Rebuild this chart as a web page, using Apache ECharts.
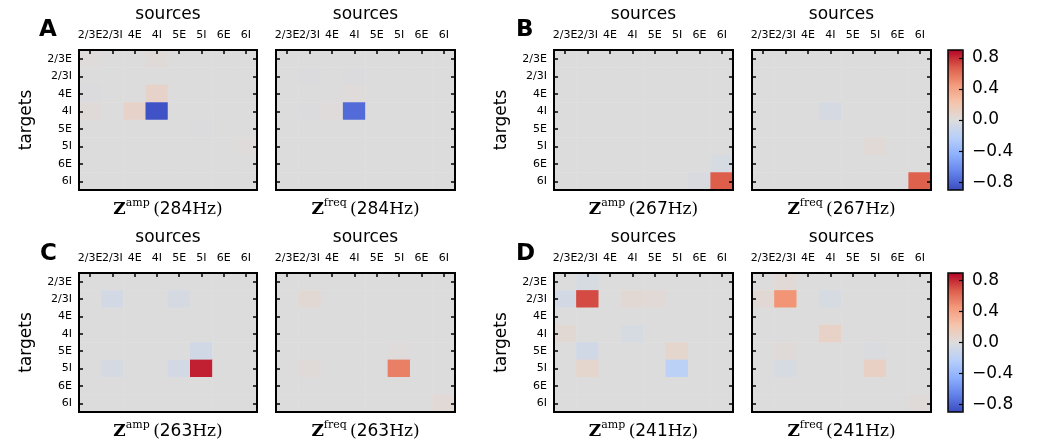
<!DOCTYPE html>
<html>
<head>
<meta charset="utf-8">
<script src="https://cdn.jsdelivr.net/npm/echarts@6/dist/echarts.min.js"></script>
<style>
html, body { margin: 0; padding: 0; background: #fff; }
#chart { width: 1038px; height: 446px; }
</style>
</head>
<body>
<div id="chart"></div>
<script>
// populations (sources on x, targets on y)
const pops = ['2/3E', '2/3I', '4E', '4I', '5E', '5I', '6E', '6I'];
const cbarTicks = [-0.8, -0.4, 0, 0.4, 0.8];
const panelLetters = ['A', 'B', 'C', 'D'];
const freqs = [284, 267, 263, 241];

// rows = targets, cols = sources
const ampA = [
    [0.01, 0, 0, 0.02, 0, 0, 0, 0],
    [0, 0, 0, 0, 0, 0, 0, 0],
    [-0.01, 0, 0, 0.09, 0, 0, 0, 0],
    [0.02, 0, 0.09, -0.87, 0, 0, 0, 0],
    [0, 0, 0, 0, 0, -0.01, 0, 0],
    [0, 0, 0, 0, 0, 0, 0, 0.01],
    [0, 0, 0, 0, 0, 0, 0, 0],
    [0, 0, 0, 0, 0, 0, 0, 0]
];
const freqA = [
    [0, 0, 0, 0, 0, 0, 0, 0],
    [0, -0.01, 0, -0.01, 0, 0, 0, 0],
    [0, 0, 0, 0.01, 0, 0, 0, 0],
    [0, -0.01, 0.01, -0.77, 0, 0, 0, 0],
    [0, 0, 0, 0, 0, 0, 0, 0],
    [0, 0, 0, 0, 0, 0, 0, 0],
    [0, 0, 0, 0, 0, 0, 0, 0],
    [0, 0, 0, 0, 0, 0, 0, 0]
];
const ampB = [
    [0, 0, 0, 0, 0, 0, 0, 0],
    [0, 0, 0, 0, 0, 0, 0, 0],
    [0, 0, 0, 0, 0, 0, 0, 0],
    [0, 0, 0, 0, 0, 0, 0, 0],
    [0, 0, 0, 0, 0, 0, 0, 0],
    [0, 0, 0, 0, 0, 0, 0, 0],
    [0, 0, 0, 0, 0, 0, 0, -0.04],
    [0, 0, 0, 0, 0, 0, -0.03, 0.67]
];
const freqB = [
    [0, 0, 0, 0, 0, 0, 0, 0],
    [0, 0, 0, 0, 0, 0, 0, 0],
    [0, 0, 0, 0, 0, 0, 0, 0],
    [0, 0, 0, -0.05, 0, 0, 0, 0],
    [0, 0, 0, 0, 0, 0, 0, 0],
    [0, 0, 0, 0, 0, 0.03, 0, 0],
    [0, 0, 0, 0, 0, 0, 0, 0],
    [0, 0, 0, 0, 0, 0, 0, 0.66]
];
const ampC = [
    [0, 0, 0, 0, 0, 0, 0, 0],
    [0, -0.06, 0, 0, -0.05, 0, 0, 0],
    [0, 0, 0, 0, 0, 0, 0, 0],
    [0, 0, 0, 0, 0, 0, 0, 0],
    [0, 0, 0, 0, 0, -0.07, 0, 0],
    [0, -0.05, 0, 0, -0.06, 0.83, 0, 0],
    [0, 0, 0, 0, 0, 0, 0, 0],
    [0, 0, 0, 0, 0, 0, 0, 0]
];
const freqC = [
    [0, 0, 0, 0, 0, 0, 0, 0],
    [0, 0.04, 0, 0, 0, 0, 0, 0],
    [0, 0, 0, 0, 0, 0, 0, 0],
    [0, 0, 0, 0, 0, 0, 0, 0],
    [0, 0, 0, 0, 0, 0.01, 0, 0],
    [0, 0.02, 0, 0, 0, 0.55, 0, 0],
    [0, 0, 0, 0, 0, 0, 0, 0],
    [0, 0, 0, 0, 0, 0, 0, 0.03]
];
const ampD = [
    [0, -0.04, 0, 0, 0, 0, 0, 0],
    [-0.06, 0.72, 0, 0.04, 0.03, 0, 0, 0],
    [0, 0, 0, 0, 0, 0, 0, 0],
    [0.04, 0, 0, -0.04, 0, 0, 0, 0],
    [0, -0.07, 0, 0, 0, 0.07, 0, 0],
    [0, 0.07, 0, 0, 0, -0.2, 0, 0],
    [0, 0, 0, 0, 0, 0, 0, 0],
    [0, 0, 0, 0, 0, 0, 0, 0]
];
const freqD = [
    [0, 0.03, 0, 0, 0, 0, 0, 0],
    [0.04, 0.47, 0, -0.04, 0, 0, 0, 0],
    [0, 0, 0, 0, 0, 0, 0, 0],
    [0, 0, 0, 0.1, 0, 0, 0, 0],
    [0, 0.02, 0, 0, 0, -0.02, 0, 0],
    [0, -0.04, 0, 0, 0, 0.11, 0, 0],
    [0, 0, 0, 0, 0, 0, 0, 0],
    [0, 0, 0, 0, 0, 0, 0, 0.02]
];

const panels = [
    { m: ampA, kind: 'amp', f: freqs[0] }, { m: freqA, kind: 'freq', f: freqs[0] },
    { m: ampB, kind: 'amp', f: freqs[1] }, { m: freqB, kind: 'freq', f: freqs[1] },
    { m: ampC, kind: 'amp', f: freqs[2] }, { m: freqC, kind: 'freq', f: freqs[2] },
    { m: ampD, kind: 'amp', f: freqs[3] }, { m: freqD, kind: 'freq', f: freqs[3] }
];

const coolwarm = ['#3b4cc0', '#6282ea', '#8db0fe', '#b8d0f9', '#dddcdc', '#f5c4ac', '#f49a7b', '#dc5d4a', '#b40426'];
const font = 'DejaVu Sans';
const serif = 'DejaVu Serif';

const lefts = [79, 276, 554, 752];
const widths = [178, 179, 179, 179];
const tops = [50, 273];
const heights = [140, 139];

let grid = [], xAxis = [], yAxis = [], series = [], graphic = [];

const tickStyle = { show: true, inside: true, alignWithLabel: true, length: 4, lineStyle: { color: '#000', width: 1.5 } };

panels.forEach((p, i) => {
    let row = i < 4 ? 0 : 1;
    let col = i % 4;
    grid.push({
        left: lefts[col], top: tops[row], width: widths[col], height: heights[row],
        show: true, borderColor: '#000', borderWidth: 2, backgroundColor: 'transparent', z: 3
    });
    xAxis.push({
        type: 'category', gridIndex: i, data: pops, position: 'top', z: 5,
        name: 'sources', nameLocation: 'middle', nameGap: 27,
        nameTextStyle: { fontFamily: font, fontSize: 17, color: '#000' },
        axisLine: { show: false },
        axisTick: tickStyle,
        axisLabel: { interval: 0, hideOverlap: false, fontFamily: font, fontSize: 11, color: '#000', margin: 9 },
        splitLine: { show: false }
    });
    let isLeft = p.kind == 'amp';
    yAxis.push({
        type: 'category', gridIndex: i, data: pops, inverse: true, position: 'left', z: 5,
        name: isLeft ? 'targets' : '', nameLocation: 'middle', nameGap: 44,
        nameTextStyle: { fontFamily: font, fontSize: 17, color: '#000' },
        axisLine: { show: false },
        axisTick: tickStyle,
        axisLabel: { show: isLeft, interval: 0, fontFamily: font, fontSize: 11, color: '#000', margin: 7 },
        splitLine: { show: false }
    });
    yAxis.push({
        type: 'category', gridIndex: i, data: pops, inverse: true, position: 'right', z: 5,
        axisLine: { show: false },
        axisTick: tickStyle,
        axisLabel: { show: false },
        splitLine: { show: false }
    });
    let data = [];
    p.m.forEach((r, ri) => r.forEach((v, ci) => data.push([ci, ri, v])));
    series.push({
        type: 'heatmap', xAxisIndex: i, yAxisIndex: i * 2, data: data, z: 1,
        emphasis: { disabled: true }, itemStyle: { borderWidth: 0 }
    });
    // bottom math label
    graphic.push({
        type: 'text',
        x: lefts[col] + widths[col] / 2,
        y: tops[row] + heights[row] + 20,
        z: 20,
        style: {
            text: '{z|Z}{s|' + p.kind + '} {p|(}{n|' + p.f + '}{h|Hz)}',
            align: 'center', verticalAlign: 'middle',
            rich: {
                z: { fontFamily: serif, fontWeight: 'bold', fontSize: 17, fill: '#000' },
                s: { fontFamily: serif, fontSize: 11, fill: '#000', verticalAlign: 'top', padding: [0, 0, 14, 0] },
                p: { fontFamily: serif, fontSize: 17, fill: '#000' },
                n: { fontFamily: font, fontSize: 17, fill: '#000' },
                h: { fontFamily: serif, fontSize: 17, fill: '#000' }
            }
        }
    });
});

// colorbars
const cbarLeft = 948, cbarWidth = 15;
let visualMap = [];
[0, 1].forEach(row => {
    let gi = grid.length;
    grid.push({
        left: cbarLeft, top: tops[row], width: cbarWidth, height: heights[row],
        show: true, borderColor: '#000', borderWidth: 1.5, backgroundColor: 'transparent', z: 10
    });
    xAxis.push({ type: 'category', gridIndex: gi, data: [''], show: false });
    yAxis.push({
        type: 'value', gridIndex: gi, min: -0.9, max: 0.9, position: 'right', z: 11,
        axisLine: { show: false },
        splitLine: { show: false },
        axisTick: { show: true, inside: true, length: 4, customValues: cbarTicks, lineStyle: { color: '#000', width: 1.2 } },
        axisLabel: {
            customValues: cbarTicks, fontFamily: font, fontSize: 17, color: '#000', margin: 9,
            formatter: v => (v < 0 ? '\u2212' : '') + Math.abs(v).toFixed(1)
        }
    });
    visualMap.push({
        type: 'continuous', min: -0.9, max: 0.9, calculable: false, realtime: false,
        seriesIndex: row == 0 ? [0, 1, 2, 3] : [4, 5, 6, 7],
        orient: 'vertical', left: cbarLeft, top: tops[row],
        itemWidth: cbarWidth, itemHeight: heights[row], padding: 0,
        text: null, showLabel: false, hoverLink: false,
        inRange: { color: coolwarm }
    });
});

// panel letters
const letterPos = [[39, 19], [516, 19], [40, 243], [516, 243]];
panelLetters.forEach((l, i) => {
    graphic.push({
        type: 'text', x: letterPos[i][0], y: letterPos[i][1],
        style: { text: l, fontFamily: font, fontWeight: 'bold', fontSize: 23, fill: '#000' }
    });
});

let chart = echarts.init(document.getElementById('chart'));
chart.setOption({
    animation: false,
    backgroundColor: '#fff',
    grid: grid,
    xAxis: xAxis,
    yAxis: yAxis,
    visualMap: visualMap,
    series: series,
    graphic: graphic
});
</script>
</body>
</html>
